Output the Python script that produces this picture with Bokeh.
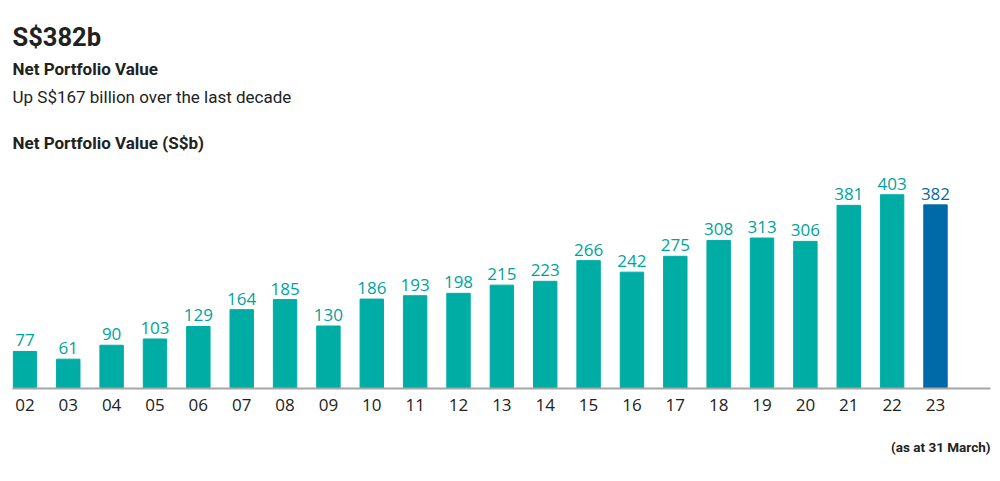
from bokeh.plotting import figure
from bokeh.models import ColumnDataSource, Range1d, FixedTicker, Label, Title
from bokeh.core.properties import value
from bokeh.embed import file_html
from bokeh.resources import INLINE

years = ["02", "03", "04", "05", "06", "07", "08", "09", "10", "11", "12",
         "13", "14", "15", "16", "17", "18", "19", "20", "21", "22", "23"]
values = [77, 61, 90, 103, 129, 164, 185, 130, 186, 193, 198,
          215, 223, 266, 242, 275, 308, 313, 306, 381, 403, 382]

TEAL = "#00ada5"
BLUE = "#0069a8"
TEXT = "#222222"

xs = list(range(len(years)))
colors = [TEAL] * (len(years) - 1) + [BLUE]
label_colors = ["#00a39b"] * (len(years) - 1) + ["#0a67a3"]

src = ColumnDataSource(dict(x=xs, top=values, color=colors, lcolor=label_colors,
                            txt=[str(v) for v in values]))

p = figure(width=1000, height=481, output_backend="svg", toolbar_location=None,
           x_range=Range1d(-0.286, 22.269), y_range=Range1d(0, 790.5),
           min_border_left=12, min_border_right=10, min_border_top=8, min_border_bottom=93,
           y_axis_location=None)
p.outline_line_color = None
p.grid.visible = False
p.background_fill_color = "white"
p.border_fill_color = "white"

p.vbar(x="x", top="top", bottom=0, width=0.54, color="color", source=src)
p.text(x="x", y="top", text="txt", source=src, text_align="center",
       text_baseline="alphabetic", y_offset=-11, text_color="lcolor",
       text_font=value("Open Sans"), text_font_size="17px")

ax = p.xaxis[0]
ax.ticker = FixedTicker(ticks=xs)
ax.major_label_overrides = {i: y for i, y in enumerate(years)}
ax.axis_line_color = "#a6a6a6"
ax.axis_line_width = 2
ax.major_tick_line_color = None
ax.minor_tick_line_color = None
ax.major_label_standoff = 4
ax.major_label_text_font = "Open Sans"
ax.major_label_text_font_size = "17px"
ax.major_label_text_color = TEXT

p.add_layout(Title(text="(as at 31 March)", align="right", text_font="Roboto",
                   text_font_size="13.5px", text_font_style="bold", text_color=TEXT,
                   standoff=46), "below")

def lab(text, x, y, size, bold=True, align="left"):
    p.add_layout(Label(x=x, y=y, x_units="screen", y_units="screen", text=text,
                       text_font="Roboto", text_font_size=size,
                       text_font_style="bold" if bold else "normal",
                       text_color=TEXT, text_align=align, text_baseline="alphabetic"))

lab("S$382b", 0, 351.5, "25.5px")
lab("Net Portfolio Value", 0, 319.5, "17px")
lab("Up S$167 billion over the last decade", 0, 292, "17px", bold=False)
lab("Net Portfolio Value (S$b)", 0, 245.7, "17px")

open("out.html", "w").write(file_html(p, INLINE))
